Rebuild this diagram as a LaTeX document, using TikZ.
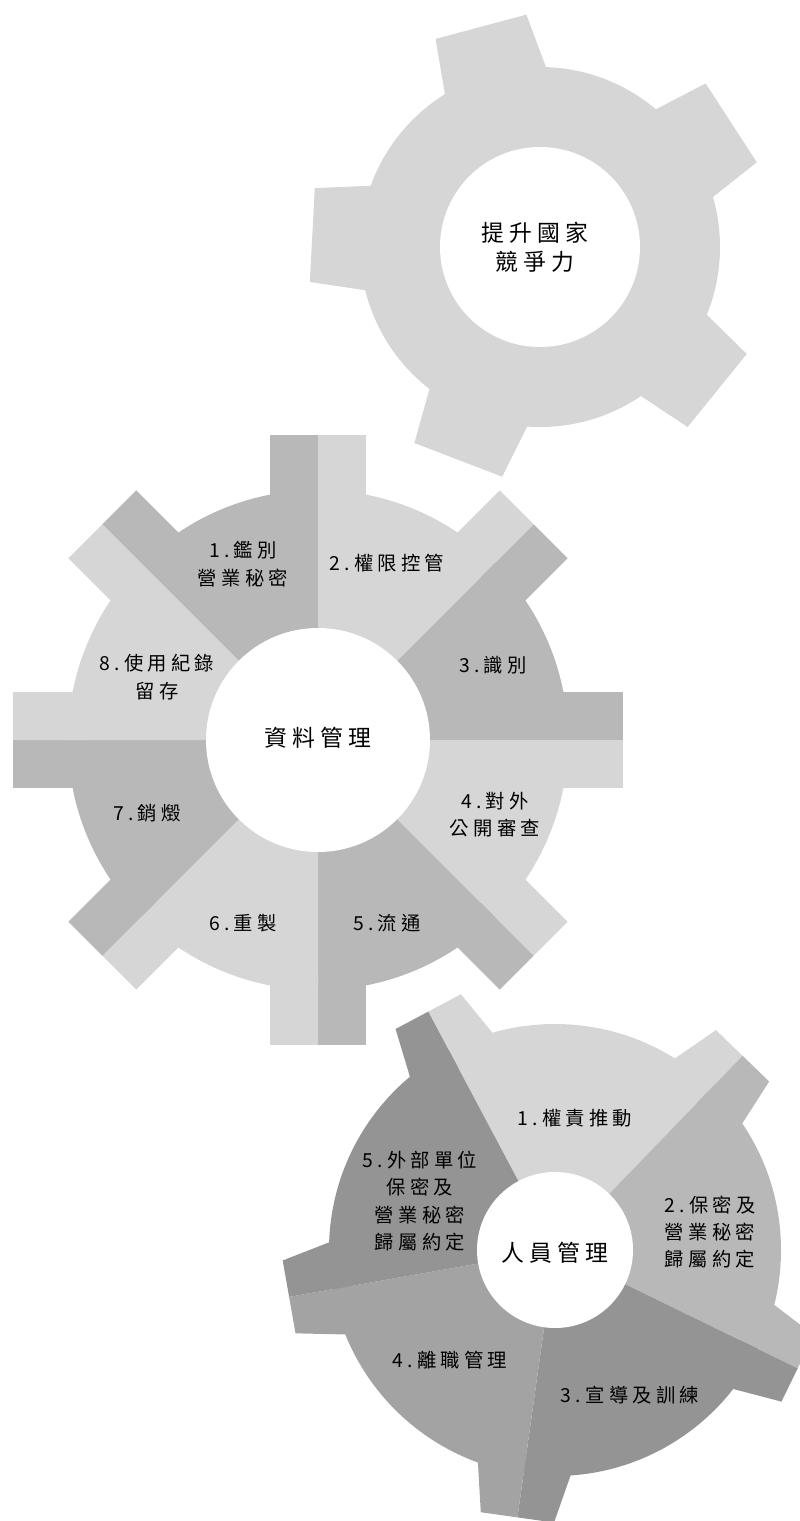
\documentclass[tikz,border=0pt]{standalone}
\usepackage{fontspec}
\usepackage{tikz}
\newfontfamily\gearfont[LetterSpace=22]{Noto Sans CJK TC}
\definecolor{dotpale}{gray}{0.84}
\definecolor{dotmid}{gray}{0.72}
\definecolor{dotdark}{gray}{0.64}
\definecolor{dotdeep}{gray}{0.58}

\begin{document}
\begin{tikzpicture}[x=0.02cm, y=0.02cm,
  hubtext/.style={font=\gearfont\fontsize{13}{16.5}\selectfont, align=center},
  parttext/.style={font=\gearfont\fontsize{11}{15.5}\selectfont, align=center}]

\useasboundingbox (0,0) rectangle (800,-1521);

% Top gear
\begin{scope}[shift={(540,-247)}]
\fill[dotpale] (0,0) circle [radius=180];
\foreach \t in {33,105,177,249,321}
  \fill[dotpale, rotate=\t] (165,-53) -- (228,-47) -- (228,47) -- (165,53) -- cycle;
\fill[white] (0,0) circle [radius=100];
\end{scope}

\path
(535,-247) node[hubtext] (nation) {提升國家\\競爭力};



% Middle gear, eight parts
\begin{scope}[shift={(318,-740)}]
\foreach \a/\c in {90/dotmid, 45/dotpale, 0/dotmid, -45/dotpale,
                   -90/dotmid, -135/dotpale, 180/dotmid, 135/dotpale} {
  \begin{scope}
  \clip (0,0) -- (\a:400) arc [start angle=\a, end angle=\a+45, radius=400] -- cycle;
  \fill[\c] (0,0) circle [radius=250];
  \foreach \t in {0,45,...,315}
    \fill[\c, rotate=\t] (230,-48) -- (305,-48) -- (305,48) -- (230,48) -- cycle;
  \end{scope}
}
\fill[white] (0,0) circle [radius=112];
\end{scope}

\path
(318,-738) node[hubtext] (data) {資料管理}
(243,-564) node[parttext] (data1) {1.鑑別\\營業秘密}
(387,-563) node[parttext] (data2) {2.權限控管}
(493,-665) node[parttext] (data3) {3.識別}
(495,-815) node[parttext] (data4) {4.對外\\公開審查}
(387,-923) node[parttext] (data5) {5.流通}
(243,-923) node[parttext] (data6) {6.重製}
(147,-813) node[parttext] (data7) {7.銷燬}
(157,-677) node[parttext] (data8) {8.使用紀錄\\留存};



% Bottom gear, five parts
\begin{scope}[shift={(555,-1250)}]
\foreach \a/\c in {46/dotpale, -26/dotmid, -98/dotdeep, -170/dotdark, 118/dotdeep} {
  \begin{scope}
  \clip (0,0) -- (\a:400) arc [start angle=\a, end angle=\a+72, radius=400] -- cycle;
  \fill[\c] (0,0) circle [radius=226];
  \foreach \t in {46,118,190,262,334}
    \fill[\c, rotate=\t] (205,-50) -- (270,-37) -- (270,37) -- (205,50) -- cycle;
  \end{scope}
}
\fill[white] (0,0) circle [radius=78];
\end{scope}

\path
(555,-1253) node[hubtext] (staff) {人員管理}
(575,-1118) node[parttext] (staff1) {1.權責推動}
(710,-1232) node[parttext] (staff2) {2.保密及\\營業秘密\\歸屬約定}
(630,-1395) node[parttext] (staff3) {3.宣導及訓練}
(450,-1360) node[parttext] (staff4) {4.離職管理}
(420,-1201) node[parttext] (staff5) {5.外部單位\\保密及\\營業秘密\\歸屬約定};

\end{tikzpicture}
\end{document}
